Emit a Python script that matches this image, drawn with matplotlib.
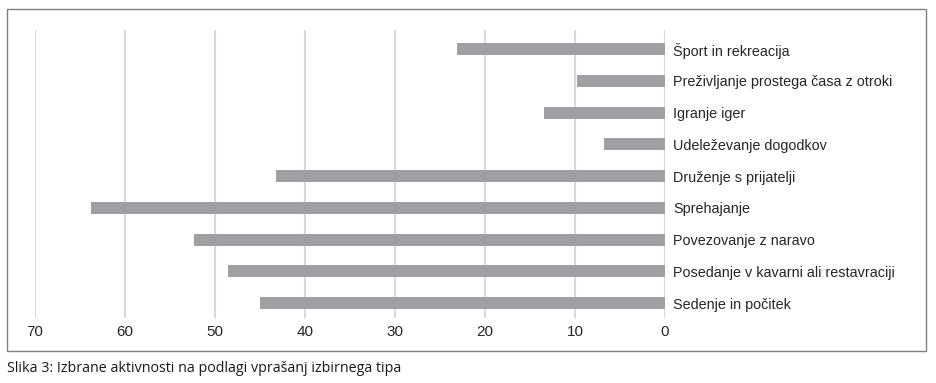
import numpy as np
import matplotlib.pyplot as plt
from matplotlib.patches import Rectangle

categories = ["Šport in rekreacija", "Preživljanje prostega časa z otroki", "Igranje iger",
              "Udeleževanje dogodkov", "Druženje s prijatelji", "Sprehajanje",
              "Povezovanje z naravo", "Posedanje v kavarni ali restavraciji", "Sedenje in počitek"]
values = [23.1, 9.8, 13.4, 6.8, 43.2, 63.8, 52.3, 48.6, 45.0]
xticks = [70, 60, 50, 40, 30, 20, 10, 0]
caption = "Slika 3: Izbrane aktivnosti na podlagi vprašanj izbirnega tipa"

plt.rcParams['font.family'] = ['Liberation Sans', 'DejaVu Sans']

W, H = 936, 383
fig = plt.figure(figsize=(W/100, H/100), dpi=100)
ax = fig.add_axes([35/W, 1-318/H, 630/W, 288/H])

y = np.arange(len(categories))
ax.barh(y, values, height=0.38, color='#a0a0a4', zorder=3)
ax.set_xlim(70, 0)
ax.set_ylim(8.47, -0.6)
ax.set_xticks(xticks)
ax.set_xticklabels([str(t) for t in xticks])
ax.grid(axis='x', color='#d9d9d9', linewidth=1.5, zorder=0)
ax.set_yticks(y)
ax.set_yticklabels(categories)
ax.yaxis.tick_right()
ax.tick_params(axis='y', length=0, pad=6, labelsize=10.4, labelcolor='#262626')
ax.tick_params(axis='x', length=0, pad=5, labelsize=11, labelcolor='#262626')
for s in ax.spines.values():
    s.set_visible(False)

# outer frame
fig.patches.append(Rectangle((7/W, 1-351/H), 919/W, 342/H, transform=fig.transFigure,
                             fill=False, edgecolor='#7f7f7f', linewidth=1))
fig.text(7/W, 1-368/H, caption, fontsize=10.25, family=['Open Sans', 'DejaVu Sans'],
         color='#1a1a1a', va='center', ha='left')

fig.savefig('out.png', dpi=100)
